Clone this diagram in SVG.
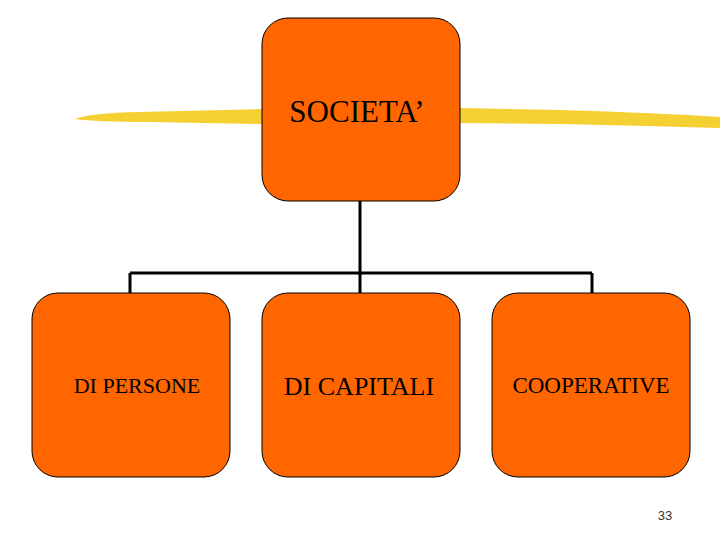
<svg xmlns="http://www.w3.org/2000/svg" width="720" height="540" viewBox="0 0 720 540">
<style>
.box{fill:#ff6600;stroke:#000;stroke-width:1}
.t{font-family:"Liberation Serif",serif;fill:#000;text-anchor:middle}
.c{stroke:#000;stroke-width:3;fill:none}
</style>
<rect width="720" height="540" fill="#fff"/>
<g id="brush" fill="#f5d033">
<path d="M75 119 Q90 113 140 112 L262 109 L262 124 L150 122 Q95 122 75 119 Z"/>
<path d="M460 108 L560 110 Q660 113 720 117 L720 128 Q650 126 560 124 L460 123 Z"/>
</g>
<g id="connectors" class="c">
<path d="M360 201 V273 M130 273 H592 M130 273 V293 M360 273 V293 M592 273 V293"/>
</g>
<g id="societa"><rect class="box" x="262" y="18" width="198" height="183" rx="26"/><text class="t" x="357" y="122" font-size="31">SOCIETA’</text></g>
<g id="persone"><rect class="box" x="32" y="293" width="198" height="184" rx="26"/><text class="t" x="137" y="393" font-size="22">DI PERSONE</text></g>
<g id="capitali"><rect class="box" x="262" y="293" width="198" height="184" rx="26"/><text class="t" x="359" y="395" font-size="26">DI CAPITALI</text></g>
<g id="coop"><rect class="box" x="492" y="293" width="198" height="184" rx="26"/><text class="t" x="591" y="393" font-size="23">COOPERATIVE</text></g>
<text x="665" y="520" font-family="Liberation Sans,sans-serif" font-size="13" fill="#333" text-anchor="middle">33</text>
</svg>
